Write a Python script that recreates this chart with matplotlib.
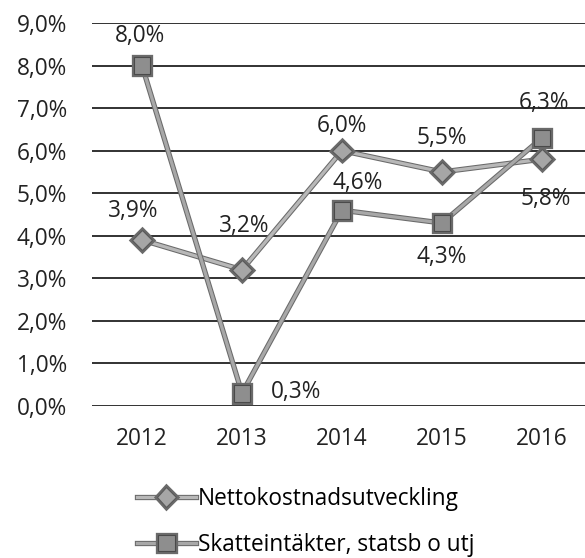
import matplotlib
matplotlib.use("Agg")
import matplotlib.pyplot as plt
import matplotlib.patheffects as pe
from matplotlib.lines import Line2D

years = ["2012", "2013", "2014", "2015", "2016"]
netto = [3.9, 3.2, 6.0, 5.5, 5.8]
skatt = [8.0, 0.3, 4.6, 4.3, 6.3]
yticks = [0, 1, 2, 3, 4, 5, 6, 7, 8, 9]
names = ["Nettokostnadsutveckling", "Skatteintäkter, statsb o utj"]

plt.rcParams['font.family'] = ['Open Sans', 'DejaVu Sans']

fig = plt.figure(figsize=(5.85, 5.58), dpi=100)
ax = fig.add_axes([92 / 585, 1 - 406 / 558, 500 / 585, (406 - 23) / 558])
x = list(range(len(years)))

for v in yticks:
    ax.axhline(v, color="#222222", lw=1.3, zorder=1)

stroke = [pe.Stroke(linewidth=3.8, foreground="#6a6a6a"), pe.Normal()]
lkw1 = dict(color="#b8b8b8", lw=2.3, marker="D", ms=10, mfc="#a6a6a6",
            mec="#5a5a5a", mew=0.8, path_effects=stroke)
lkw2 = dict(color="#a8a8a8", lw=2.3, marker="s", ms=12, mfc="#8e8e8e",
            mec="#4a4a4a", mew=0.8, path_effects=stroke)
ax.plot(x, netto, zorder=3, **lkw1)
ax.plot(x, skatt, zorder=4, **lkw2)

fs = 16.3
px = 0.72  # pixels -> points
# offsets in pixels (dx, dy up)
netto_off = [(-9, 29), (2, 44), (0, 25), (0, 34), (4, -40)]
skatt_off = [(-2, 30), (54, 1), (16, 27), (0, -34), (2, 35)]
for vals, offs in ((netto, netto_off), (skatt, skatt_off)):
    for i, v in enumerate(vals):
        lab = f"{v:.1f}%".replace(".", ",")
        dx, dy = offs[i]
        ax.annotate(lab, (i, v), xytext=(dx * px, dy * px), textcoords="offset points",
                    ha="center", va="center", fontsize=fs, color="#222222", zorder=5)

ax.set_xlim(-0.5, 4.5)
ax.set_ylim(0, 9)
ax.set_xticks(x)
ax.set_xticklabels(years, fontsize=fs, color="#222222")
ax.set_yticks(yticks)
ax.set_yticklabels([f"{v:.1f}%".replace(".", ",") for v in yticks], fontsize=fs, color="#222222")
ax.tick_params(axis="y", length=0, pad=18)
ax.tick_params(axis="x", length=0, pad=15)
for s in ax.spines.values():
    s.set_visible(False)

h1 = Line2D([], [], **lkw1)
h2 = Line2D([], [], **lkw2)
fig.legend([h1, h2], names, loc="center left", bbox_to_anchor=(137 / 585, 1 - 522 / 558),
           frameon=False, fontsize=fs, handlelength=2.6, labelspacing=0.97,
           handletextpad=0.1, borderpad=0, borderaxespad=0)

fig.savefig("out.png", dpi=100, facecolor="white")
